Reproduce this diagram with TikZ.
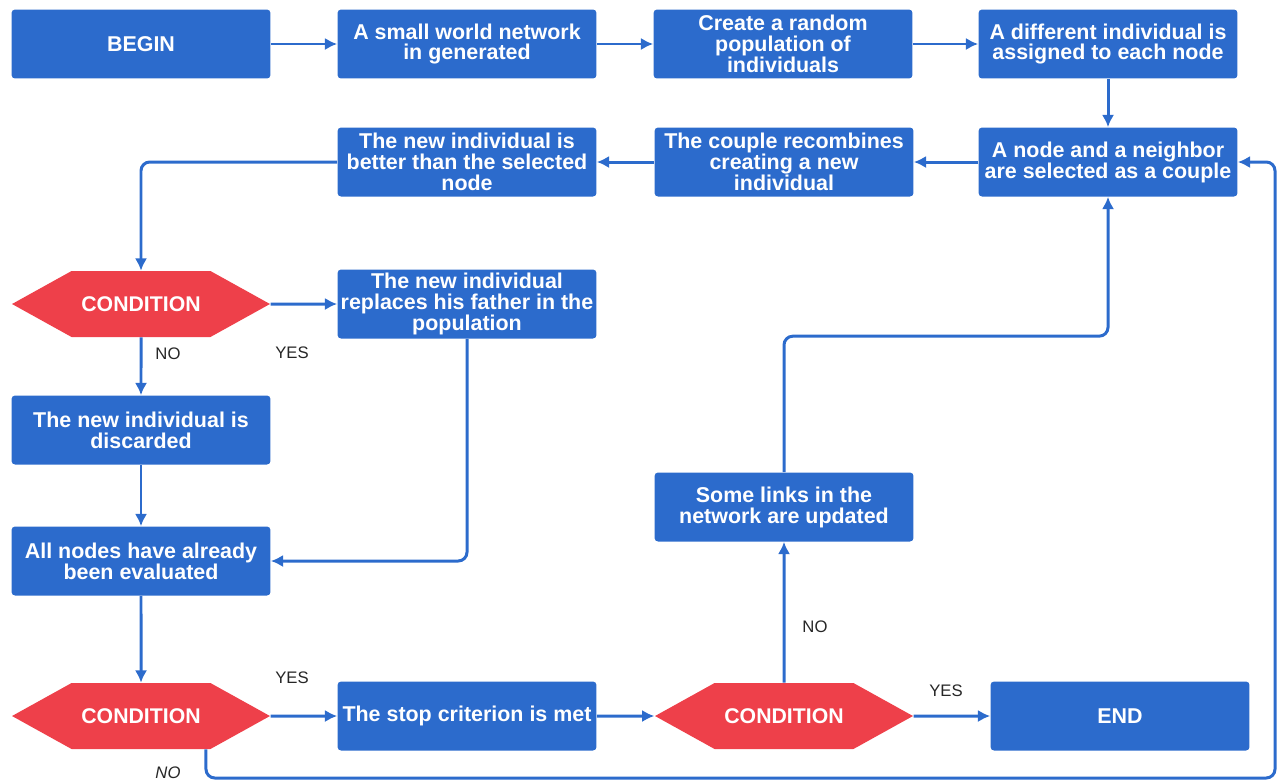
\documentclass[tikz,border=0pt]{standalone}
\usepackage{fontspec}
\setmainfont{Liberation Sans}
\usetikzlibrary{arrows.meta,shapes.symbols}
\definecolor{boxblue}{RGB}{44,107,204}
\definecolor{condred}{RGB}{238,64,74}
\tikzset{
  box/.style={fill=boxblue,rounded corners=2pt,minimum width=5.18cm,minimum height=1.38cm,
    inner sep=1pt,align=center,text=white,font=\fontsize{12.2}{11.9}\selectfont\bfseries},
  cond/.style={signal,signal to=east and west,signal pointer angle=58,fill=condred,
    minimum width=5.16cm,minimum height=1.32cm,inner sep=0pt,text=white,
    font=\fontsize{12.1}{12}\selectfont\bfseries},
  flow/.style={draw=boxblue,line width=1.7pt,rounded corners=5pt,-{Latex[length=7pt,width=7pt]}},
  ans/.style={font=\fontsize{9.5}{10}\selectfont,text=black!85}
}
\begin{document}
\begin{tikzpicture}[x=0.02cm,y=-0.02cm]
\useasboundingbox (0,0) rectangle (1280,782);
% top row
\node[box] (begin) at (141,44) {BEGIN};
\node[box] (smallw) at (467,44) {A small world network\\in generated};
\node[box] (randpop) at (783,44) {Create a random\\population of\\individuals};
\node[box] (assign) at (1108,44) {A different individual is\\assigned to each node};
% second row
\node[box] (pair) at (1108,162) {A node and a neighbor\\are selected as a couple};
\node[box] (recomb) at (784,162) {The couple recombines\\creating a new\\individual};
\node[box] (better) at (467,162) {The new individual is\\better than the selected\\node};
% left column
\node[cond] (cond1) at (141,304) {CONDITION};
\node[box] (replace) at (467,304) {The new individual\\replaces his father in the\\population};
\node[box] (discard) at (141,430) {The new individual is\\discarded};
\node[box] (alleval) at (141,561) {All nodes have already\\been evaluated};
\node[box] (links) at (784,507) {Some links in the\\network are updated};
% bottom row
\node[cond] (cond2) at (141,716) {CONDITION};
\node[box] (stopcrit) at (467,716) {The stop criterion is met};
\node[cond] (cond3) at (784,716) {CONDITION};
\node[box] (finish) at (1120,716) {END};
\coordinate (rimB) at (1275,778);

\draw[flow] (begin) -- (smallw);
\draw[flow] (smallw) -- (randpop);
\draw[flow] (randpop) -- (assign);
\draw[flow] (assign) -- (pair);
\draw[flow] (pair) -- (recomb);
\draw[flow] (recomb) -- (better);
\draw[flow] (better.west) -| (cond1.north);
\draw[flow] (cond1) -- (replace);
\draw[flow] (cond1) -- (discard);
\draw[flow] (replace.south) |- (alleval.east);
\draw[flow] (discard) -- (alleval);
\draw[flow] (alleval) -- (cond2);
\draw[flow] (cond2) -- (stopcrit);
\draw[flow] (stopcrit) -- (cond3);
\draw[flow] (cond3) -- (finish);
\draw[flow] (cond3) -- (links);
\draw[flow] (links.north) -- ++(0,-136) -| (pair.south);
\draw[flow] ([xshift=1.3cm]cond2.south) |- (rimB) |- (pair.east);

\node[ans] (yes1) at (292,353) {YES};
\node[ans] (no1) at (168,354) {NO};
\node[ans] (yes2) at (292,678) {YES};
\node[ans] (yes3) at (946,691) {YES};
\node[ans] (no3) at (815,627) {NO};
\node[ans,font=\fontsize{9.5}{10}\selectfont\itshape] (no2) at (168,773) {NO};
\end{tikzpicture}
\end{document}
